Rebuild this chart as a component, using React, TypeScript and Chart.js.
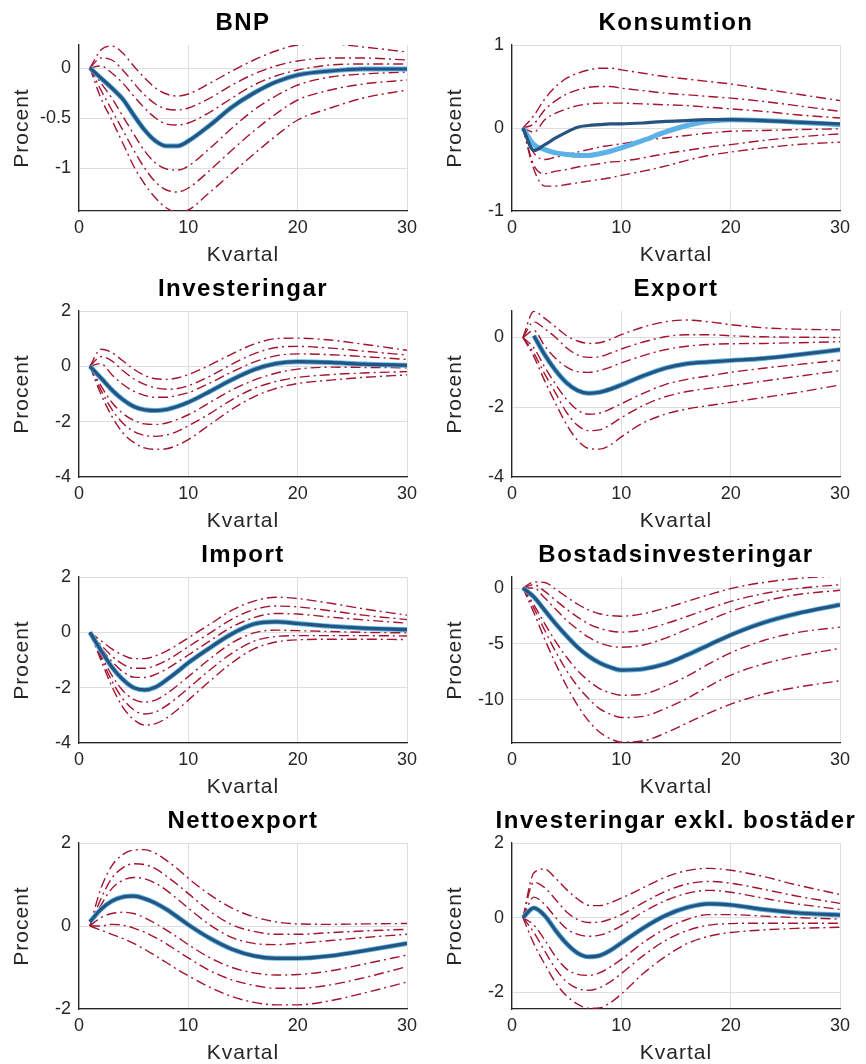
import { useEffect, useRef } from "react";
import { Chart, registerables } from "chart.js";

Chart.register(...registerables);

// Horizon (quarters) at which each response is sampled.
const QUARTERS = [1, 2, 3, 4, 5, 6, 7, 8, 9, 10, 12, 14, 16, 18, 20, 23, 26, 30];
const X_TICKS = [0, 10, 20, 30];

// BNP
const BNP_MID = [0, -0.1, -0.2, -0.31, -0.47, -0.62, -0.73, -0.78, -0.78, -0.73, -0.57, -0.39, -0.25, -0.14, -0.07, -0.03, -0.01, -0.01];
const BNP_BANDS = [
  [0, 0.18, 0.22, 0.15, 0.02, -0.1, -0.2, -0.26, -0.28, -0.26, -0.15, -0.03, 0.08, 0.17, 0.23, 0.24, 0.21, 0.16],
  [0, 0.1, 0.08, -0.02, -0.15, -0.27, -0.36, -0.41, -0.42, -0.4, -0.3, -0.17, -0.06, 0.02, 0.07, 0.1, 0.1, 0.08],
  [0, 0.02, -0.05, -0.15, -0.28, -0.4, -0.5, -0.56, -0.57, -0.55, -0.44, -0.3, -0.17, -0.08, -0.02, 0.03, 0.04, 0.04],
  [0, -0.15, -0.3, -0.48, -0.66, -0.83, -0.95, -1.01, -1.02, -0.98, -0.8, -0.6, -0.42, -0.28, -0.17, -0.09, -0.06, -0.04],
  [0, -0.22, -0.42, -0.62, -0.82, -1.0, -1.14, -1.22, -1.24, -1.2, -1.02, -0.82, -0.63, -0.46, -0.32, -0.22, -0.16, -0.12],
  [0, -0.3, -0.52, -0.75, -0.98, -1.16, -1.3, -1.4, -1.44, -1.42, -1.24, -1.05, -0.86, -0.68, -0.52, -0.4, -0.3, -0.22],
];
const BNP_Y_TICKS = [-1, -0.5, 0];
const BNP_Y_RANGE = [-1.43, 0.23];

// Konsumtion
const KONS_MID = [0, -0.27, -0.2, -0.12, -0.05, 0.01, 0.03, 0.04, 0.05, 0.05, 0.06, 0.08, 0.09, 0.1, 0.1, 0.09, 0.07, 0.05];
const KONS_ALT = [0, -0.2, -0.26, -0.3, -0.32, -0.33, -0.33, -0.31, -0.28, -0.24, -0.15, -0.05, 0.03, 0.08, 0.1, 0.09, 0.07, 0.04];
const KONS_BANDS = [
  [0, 0.15, 0.35, 0.5, 0.6, 0.66, 0.7, 0.72, 0.72, 0.7, 0.66, 0.62, 0.59, 0.56, 0.53, 0.47, 0.41, 0.33],
  [0, 0.05, 0.22, 0.33, 0.41, 0.46, 0.49, 0.5, 0.5, 0.48, 0.45, 0.42, 0.4, 0.38, 0.36, 0.32, 0.27, 0.2],
  [0, -0.05, 0.1, 0.18, 0.23, 0.27, 0.29, 0.3, 0.3, 0.3, 0.29, 0.28, 0.27, 0.25, 0.23, 0.2, 0.16, 0.12],
  [0, -0.3, -0.38, -0.35, -0.32, -0.29, -0.26, -0.23, -0.21, -0.19, -0.15, -0.12, -0.09, -0.06, -0.04, -0.03, -0.02, -0.01],
  [0, -0.45, -0.55, -0.52, -0.5, -0.47, -0.45, -0.43, -0.41, -0.4, -0.36, -0.31, -0.27, -0.23, -0.2, -0.15, -0.11, -0.07],
  [0, -0.5, -0.7, -0.7, -0.68, -0.66, -0.64, -0.62, -0.6, -0.57, -0.52, -0.46, -0.39, -0.33, -0.29, -0.24, -0.2, -0.17],
];
const KONS_Y_TICKS = [-1, 0, 1];
const KONS_Y_RANGE = [-1, 1];

// Investeringar
const INV_MID = [0, -0.42, -0.85, -1.2, -1.45, -1.57, -1.6, -1.56, -1.45, -1.3, -0.9, -0.48, -0.12, 0.1, 0.17, 0.14, 0.08, 0.04];
const INV_BANDS = [
  [0, 0.62, 0.5, 0.2, -0.1, -0.33, -0.45, -0.47, -0.42, -0.3, 0.05, 0.45, 0.8, 1.0, 1.02, 0.95, 0.8, 0.58],
  [0, 0.35, 0.2, -0.15, -0.45, -0.65, -0.78, -0.83, -0.8, -0.7, -0.35, 0.08, 0.45, 0.68, 0.72, 0.66, 0.55, 0.41],
  [0, 0.1, -0.3, -0.65, -0.9, -1.05, -1.12, -1.12, -1.05, -0.95, -0.6, -0.2, 0.15, 0.38, 0.45, 0.42, 0.35, 0.25],
  [0, -0.7, -1.3, -1.7, -1.95, -2.08, -2.1, -2.05, -1.92, -1.75, -1.3, -0.85, -0.5, -0.25, -0.1, -0.03, -0.04, -0.05],
  [0, -0.85, -1.55, -2.05, -2.35, -2.5, -2.53, -2.48, -2.35, -2.15, -1.7, -1.2, -0.8, -0.55, -0.4, -0.3, -0.24, -0.19],
  [0, -1.0, -1.8, -2.4, -2.75, -2.95, -3.0, -2.98, -2.85, -2.65, -2.1, -1.55, -1.1, -0.8, -0.62, -0.5, -0.4, -0.31],
];
const INV_Y_TICKS = [-4, -2, 0, 2];
const INV_Y_RANGE = [-4, 2];

// Export
const EXP_MID = [null, 0.05, -0.5, -0.95, -1.3, -1.52, -1.6, -1.57, -1.48, -1.36, -1.1, -0.88, -0.75, -0.7, -0.66, -0.6, -0.5, -0.35];
const EXP_BANDS = [
  [0, 0.75, 0.55, 0.3, 0.05, -0.1, -0.17, -0.15, -0.05, 0.08, 0.3, 0.45, 0.5, 0.45, 0.37, 0.28, 0.24, 0.22],
  [0, 0.45, 0.25, 0.0, -0.3, -0.5, -0.57, -0.55, -0.45, -0.33, -0.13, 0.02, 0.08, 0.08, 0.05, 0.02, 0.01, 0.0],
  [0, 0.2, -0.25, -0.6, -0.85, -0.98, -1.0, -0.95, -0.85, -0.73, -0.52, -0.35, -0.25, -0.2, -0.18, -0.17, -0.15, -0.12],
  [0, -0.3, -0.85, -1.35, -1.78, -2.08, -2.2, -2.17, -2.05, -1.9, -1.6, -1.35, -1.2, -1.1, -1.0, -0.88, -0.78, -0.65],
  [0, -0.45, -1.05, -1.6, -2.15, -2.52, -2.67, -2.65, -2.5, -2.3, -1.95, -1.7, -1.55, -1.46, -1.38, -1.25, -1.12, -0.95],
  [0, -0.55, -1.25, -1.9, -2.5, -2.95, -3.18, -3.2, -3.08, -2.85, -2.45, -2.2, -2.05, -1.95, -1.86, -1.72, -1.58, -1.36],
];
const EXP_Y_TICKS = [-4, -2, 0];
const EXP_Y_RANGE = [-4, 0.76];

// Import
const IMP_MID = [0, -0.65, -1.25, -1.7, -2.0, -2.08, -1.98, -1.72, -1.42, -1.1, -0.55, -0.05, 0.3, 0.38, 0.32, 0.22, 0.15, 0.1];
const IMP_BANDS = [
  [0, -0.3, -0.6, -0.82, -0.95, -0.95, -0.85, -0.68, -0.45, -0.2, 0.3, 0.8, 1.13, 1.27, 1.22, 1.05, 0.85, 0.62],
  [0, -0.45, -0.85, -1.15, -1.3, -1.3, -1.2, -1.02, -0.78, -0.52, -0.02, 0.48, 0.82, 0.95, 0.92, 0.78, 0.62, 0.46],
  [0, -0.55, -1.05, -1.42, -1.62, -1.63, -1.52, -1.33, -1.08, -0.82, -0.3, 0.2, 0.53, 0.68, 0.66, 0.55, 0.45, 0.33],
  [0, -0.8, -1.55, -2.1, -2.42, -2.52, -2.45, -2.22, -1.92, -1.6, -0.95, -0.38, -0.02, 0.08, 0.06, 0.03, 0.0, -0.02],
  [0, -0.9, -1.75, -2.4, -2.8, -2.95, -2.88, -2.65, -2.35, -2.02, -1.35, -0.75, -0.32, -0.15, -0.12, -0.12, -0.12, -0.13],
  [0, -1.0, -1.95, -2.7, -3.15, -3.35, -3.3, -3.1, -2.8, -2.45, -1.75, -1.1, -0.6, -0.35, -0.27, -0.25, -0.25, -0.26],
];
const IMP_Y_TICKS = [-4, -2, 0, 2];
const IMP_Y_RANGE = [-4, 2];

// Bostadsinvesteringar
const BOST_MID = [0, -0.8, -2.0, -3.2, -4.3, -5.3, -6.1, -6.7, -7.1, -7.35, -7.25, -6.8, -6.0, -5.1, -4.2, -3.1, -2.3, -1.5];
const BOST_BANDS = [
  [0, 0.55, 0.5, -0.1, -0.8, -1.45, -1.95, -2.3, -2.47, -2.52, -2.3, -1.8, -1.2, -0.6, -0.05, 0.5, 0.85, 1.1],
  [0, 0.3, -0.3, -1.1, -1.9, -2.6, -3.2, -3.6, -3.85, -3.95, -3.75, -3.2, -2.55, -1.85, -1.2, -0.5, -0.05, 0.3],
  [0, 0.0, -0.9, -1.9, -2.9, -3.7, -4.4, -4.9, -5.2, -5.3, -5.1, -4.5, -3.7, -2.9, -2.1, -1.2, -0.6, -0.2],
  [0, -1.5, -3.2, -4.8, -6.2, -7.4, -8.3, -9.0, -9.4, -9.6, -9.5, -8.8, -7.9, -6.8, -5.8, -4.7, -4.0, -3.5],
  [0, -1.8, -3.8, -5.7, -7.4, -8.8, -9.9, -10.8, -11.3, -11.6, -11.5, -10.8, -9.9, -8.8, -7.8, -6.8, -6.1, -5.4],
  [0, -2.2, -4.6, -6.8, -8.8, -10.5, -11.9, -12.9, -13.5, -13.8, -13.7, -13.0, -12.1, -11.2, -10.4, -9.5, -8.9, -8.3],
];
const BOST_Y_TICKS = [-10, -5, 0];
const BOST_Y_RANGE = [-13.88, 0.99];

// Nettoexport
const NETTO_MID = [0.1, 0.4, 0.6, 0.7, 0.72, 0.66, 0.55, 0.4, 0.22, 0.03, -0.3, -0.56, -0.72, -0.78, -0.78, -0.72, -0.6, -0.42];
const NETTO_BANDS = [
  [0, 0.9, 1.45, 1.72, 1.83, 1.84, 1.75, 1.58, 1.38, 1.15, 0.75, 0.43, 0.22, 0.1, 0.05, 0.04, 0.05, 0.06],
  [0, 0.65, 1.15, 1.4, 1.5, 1.48, 1.38, 1.2, 1.0, 0.78, 0.35, 0.03, -0.13, -0.2, -0.2, -0.16, -0.12, -0.08],
  [0, 0.5, 0.9, 1.1, 1.17, 1.14, 1.03, 0.86, 0.65, 0.43, 0.02, -0.28, -0.42, -0.45, -0.42, -0.35, -0.28, -0.2],
  [0, 0.2, 0.3, 0.33, 0.3, 0.2, 0.06, -0.1, -0.27, -0.45, -0.77, -1.0, -1.13, -1.18, -1.17, -1.08, -0.92, -0.7],
  [0, 0.0, 0.04, 0.02, -0.05, -0.15, -0.28, -0.43, -0.6, -0.77, -1.08, -1.3, -1.43, -1.5, -1.5, -1.42, -1.25, -0.98],
  [0, -0.1, -0.2, -0.3, -0.42, -0.56, -0.72, -0.88, -1.05, -1.2, -1.48, -1.7, -1.84, -1.9, -1.9, -1.8, -1.62, -1.35],
];
const NETTO_Y_TICKS = [-2, 0, 2];
const NETTO_Y_RANGE = [-2, 2];

// Investeringar exkl. bostäder
const INVX_MID = [0, 0.26, 0.05, -0.35, -0.7, -0.95, -1.05, -1.02, -0.88, -0.68, -0.28, 0.05, 0.27, 0.37, 0.34, 0.22, 0.13, 0.07];
const INVX_BANDS = [
  [0, 1.2, 1.3, 1.05, 0.75, 0.5, 0.33, 0.32, 0.4, 0.52, 0.8, 1.08, 1.26, 1.32, 1.27, 1.1, 0.88, 0.62],
  [0, 0.95, 0.8, 0.48, 0.15, -0.05, -0.13, -0.12, -0.04, 0.08, 0.4, 0.7, 0.9, 0.97, 0.92, 0.76, 0.58, 0.38],
  [0, 0.55, 0.35, 0.0, -0.3, -0.45, -0.5, -0.47, -0.37, -0.22, 0.15, 0.45, 0.65, 0.73, 0.68, 0.52, 0.37, 0.22],
  [0, -0.2, -0.6, -1.05, -1.38, -1.52, -1.55, -1.48, -1.32, -1.12, -0.67, -0.3, -0.05, 0.08, 0.08, 0.04, 0.0, -0.04],
  [0, -0.4, -0.9, -1.38, -1.72, -1.9, -1.95, -1.88, -1.72, -1.5, -1.02, -0.62, -0.35, -0.2, -0.16, -0.15, -0.15, -0.15],
  [0, -0.7, -1.25, -1.75, -2.1, -2.32, -2.43, -2.42, -2.28, -2.05, -1.5, -1.05, -0.7, -0.5, -0.4, -0.33, -0.29, -0.26],
];
const INVX_Y_TICKS = [-2, 0, 2];
const INVX_Y_RANGE = [-2.45, 2];

type PanelSpec = {
  title: string;
  mid: (number | null)[];
  alt: (number | null)[];
  bands: number[][];
  yTicks: number[];
  yRange: number[];
};

const PANELS: PanelSpec[] = [
  { title: "BNP", mid: BNP_MID, alt: BNP_MID, bands: BNP_BANDS, yTicks: BNP_Y_TICKS, yRange: BNP_Y_RANGE },
  { title: "Konsumtion", mid: KONS_MID, alt: KONS_ALT, bands: KONS_BANDS, yTicks: KONS_Y_TICKS, yRange: KONS_Y_RANGE },
  { title: "Investeringar", mid: INV_MID, alt: INV_MID, bands: INV_BANDS, yTicks: INV_Y_TICKS, yRange: INV_Y_RANGE },
  { title: "Export", mid: EXP_MID, alt: EXP_MID, bands: EXP_BANDS, yTicks: EXP_Y_TICKS, yRange: EXP_Y_RANGE },
  { title: "Import", mid: IMP_MID, alt: IMP_MID, bands: IMP_BANDS, yTicks: IMP_Y_TICKS, yRange: IMP_Y_RANGE },
  { title: "Bostadsinvesteringar", mid: BOST_MID, alt: BOST_MID, bands: BOST_BANDS, yTicks: BOST_Y_TICKS, yRange: BOST_Y_RANGE },
  { title: "Nettoexport", mid: NETTO_MID, alt: NETTO_MID, bands: NETTO_BANDS, yTicks: NETTO_Y_TICKS, yRange: NETTO_Y_RANGE },
  { title: "Investeringar exkl. bostäder", mid: INVX_MID, alt: INVX_MID, bands: INVX_BANDS, yTicks: INVX_Y_TICKS, yRange: INVX_Y_RANGE },
];

const FONT = "'Liberation Sans', Arial, Helvetica, sans-serif";
const DARK_BLUE = "#24547f";
const LIGHT_BLUE = "#5cb2e6";
const BAND_RED = "#a2142f";
const GRID = "#dedede";
const AXIS = "#262626";
const PANEL_W = 433;
const PANEL_H = 266;

// Draws the panel title and both axis titles, centred on the plot area.
function panelText(title: string) {
  return {
    id: "panelText",
    afterDraw(chart: any) {
      const { ctx, chartArea } = chart;
      const cx = (chartArea.left + chartArea.right) / 2;
      const cy = (chartArea.top + chartArea.bottom) / 2;
      ctx.save();
      ctx.textAlign = "center";
      ctx.textBaseline = "middle";
      ctx.fillStyle = "#000000";
      ctx.letterSpacing = "1.5px";
      ctx.font = `bold 24px ${FONT}`;
      ctx.fillText(title, cx, 23);
      ctx.fillStyle = AXIS;
      ctx.letterSpacing = "1px";
      ctx.font = `21px ${FONT}`;
      ctx.fillText("Kvartal", cx, 255);
      ctx.translate(22, cy);
      ctx.rotate(-Math.PI / 2);
      ctx.fillText("Procent", 0, 0);
      ctx.restore();
    },
  };
}

function Panel({ spec, left, top }: { spec: PanelSpec; left: number; top: number }) {
  const ref = useRef<HTMLCanvasElement>(null);

  useEffect(() => {
    const canvas = ref.current;
    if (!canvas) return;
    const toPoints = (ys: (number | null)[]) => QUARTERS.map((x, i) => ({ x, y: ys[i] }));
    const tickFont = { family: FONT, size: 18 };

    const datasets: any[] = [
      { data: toPoints(spec.mid), borderColor: DARK_BLUE, borderWidth: 3.2 },
      { data: toPoints(spec.alt), borderColor: LIGHT_BLUE, borderWidth: 5 },
      ...spec.bands.map((b) => ({
        data: toPoints(b),
        borderColor: BAND_RED,
        borderWidth: 1.4,
        borderDash: [10, 4, 2, 4],
      })),
    ];

    const chart = new Chart(canvas, {
      type: "line",
      data: { datasets },
      options: {
        animation: false,
        responsive: false,
        events: [],
        layout: { padding: { top: 45, right: 26, left: 0, bottom: 0 } },
        plugins: { legend: { display: false }, tooltip: { enabled: false }, title: { display: false } },
        elements: {
          point: { radius: 0 },
          line: { cubicInterpolationMode: "monotone", fill: false, borderCapStyle: "butt" },
        },
        scales: {
          x: {
            type: "linear",
            min: 0,
            max: 30,
            afterBuildTicks: (s: any) => {
              s.ticks = X_TICKS.map((v) => ({ value: v }));
            },
            afterFit: (s: any) => {
              s.height = 55;
            },
            grid: { color: GRID, drawTicks: false, lineWidth: 1 },
            border: { color: AXIS, width: 1.3 },
            ticks: {
              padding: 6,
              font: tickFont,
              color: AXIS,
              maxRotation: 0,
              autoSkip: false,
              callback: (v: any) => String(v),
            },
          },
          y: {
            type: "linear",
            min: spec.yRange[0],
            max: spec.yRange[1],
            afterBuildTicks: (s: any) => {
              s.ticks = spec.yTicks.map((v) => ({ value: v }));
            },
            afterFit: (s: any) => {
              s.width = 79;
            },
            grid: { color: GRID, drawTicks: false, lineWidth: 1 },
            border: { color: AXIS, width: 1.3 },
            ticks: {
              padding: 8,
              font: tickFont,
              color: AXIS,
              autoSkip: false,
              callback: (v: any) => String(v),
            },
          },
        },
      } as any,
      plugins: [panelText(spec.title)],
    });

    return () => chart.destroy();
  }, [spec]);

  return (
    <canvas
      ref={ref}
      width={PANEL_W}
      height={PANEL_H}
      style={{ position: "absolute", left, top, width: PANEL_W, height: PANEL_H }}
    />
  );
}

export default function App() {
  return (
    <div
      style={{
        position: "absolute",
        left: 0,
        top: 0,
        width: PANEL_W * 2,
        height: 1064,
        background: "#ffffff",
      }}
    >
      {PANELS.map((spec, i) => (
        <Panel key={spec.title} spec={spec} left={(i % 2) * PANEL_W} top={Math.floor(i / 2) * PANEL_H} />
      ))}
    </div>
  );
}
